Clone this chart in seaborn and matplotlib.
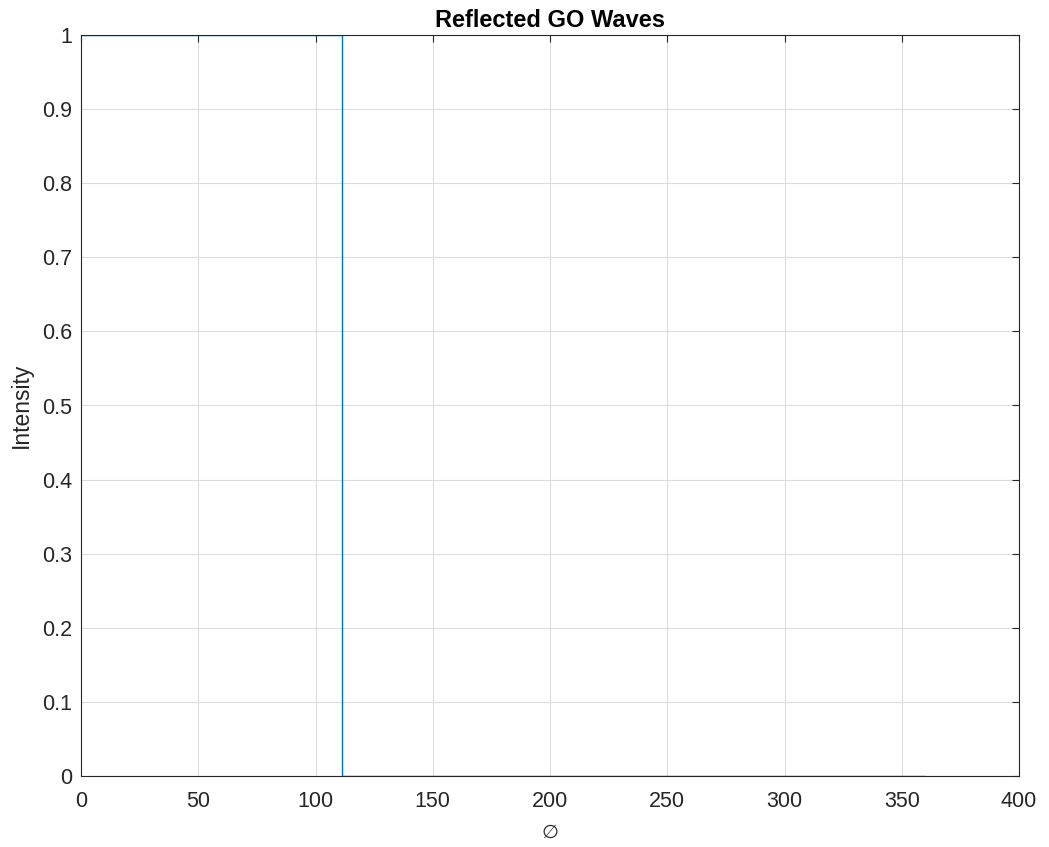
import matplotlib
matplotlib.use("Agg")
import matplotlib.pyplot as plt
import seaborn as sns
import pandas as pd

phi = [0, 111.3, 111.3, 360]
intensity = [1, 1, 0, 0]
xticks = [0, 50, 100, 150, 200, 250, 300, 350, 400]
yticks = [0, 0.1, 0.2, 0.3, 0.4, 0.5, 0.6, 0.7, 0.8, 0.9, 1]

sns.set_theme(style="white")
plt.rcParams['font.family'] = ['Liberation Sans', 'DejaVu Sans']

df = pd.DataFrame({"phi": phi, "Intensity": intensity})

fig = plt.figure(figsize=(10.49, 8.47), dpi=100)
ax = fig.add_axes([81/1049, 1-776/847, (1019-81)/1049, (776-35)/847])
sns.lineplot(data=df, x="phi", y="Intensity", estimator=None, sort=False,
             color="#0072BD", linewidth=1.0, ax=ax)
ax.set_xlim(0, 400)
ax.set_ylim(0, 1)
ax.set_xticks(xticks)
ax.set_yticks(yticks)
ax.set_yticklabels([f"{v:g}" for v in yticks])
ax.grid(True, color="#dcdcdc", linewidth=0.8)
ax.tick_params(direction="in", length=5, width=0.8, colors="#262626",
               labelsize=15.5, top=True, right=True, labelcolor="#262626")
ax.tick_params(axis='y', pad=6.5)
ax.tick_params(axis='x', pad=11)
for s in ax.spines.values():
    s.set_color("#262626")
    s.set_linewidth(0.8)
ax.set_xlabel("∅", fontsize=14, color="#262626", family=['DejaVu Sans'], va='center')
ax.xaxis.set_label_coords(0.5, -(832-776)/741)
ax.set_ylabel("Intensity", fontsize=16.5, color="#262626", va='center')
ax.yaxis.set_label_coords(-(81-21)/938, 0.5)
ax.set_title("Reflected GO Waves", fontsize=17, fontweight="bold", color="black", pad=6)
fig.savefig("out.png", dpi=100)
